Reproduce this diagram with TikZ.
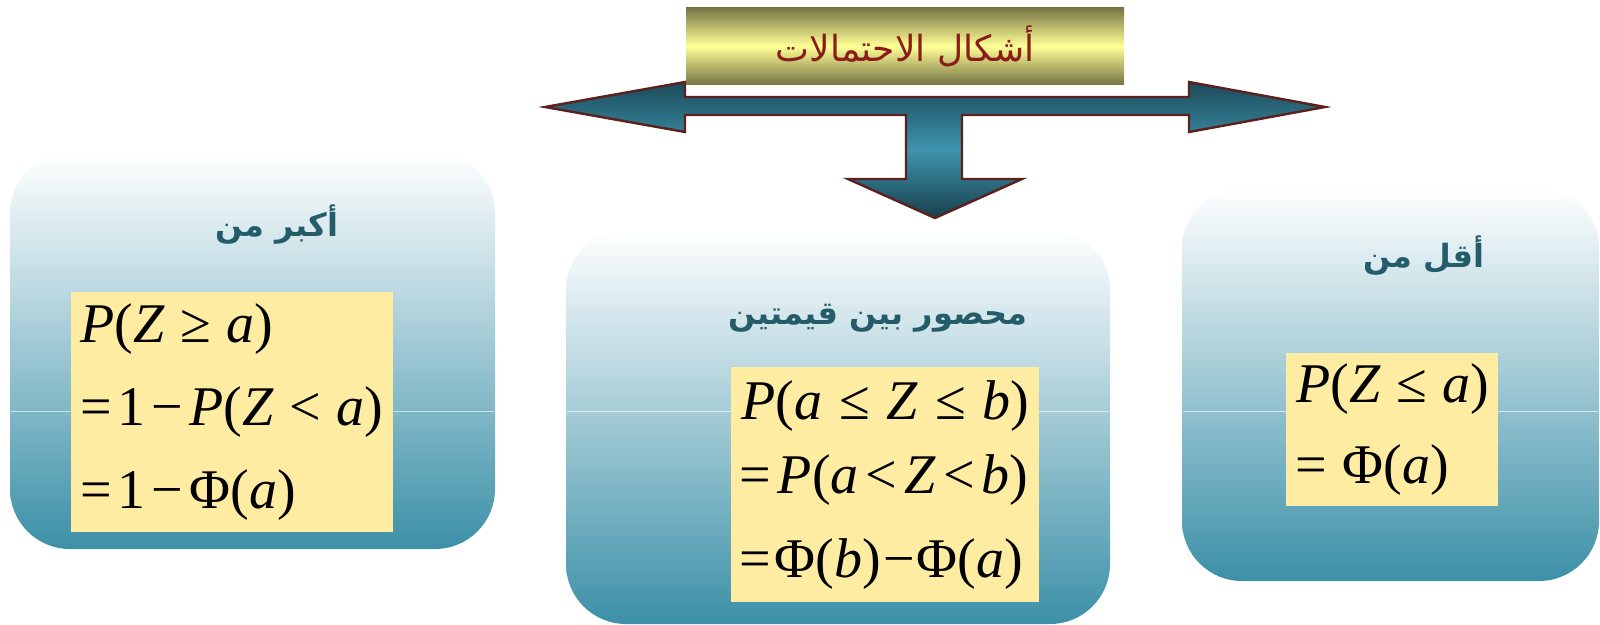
\documentclass[tikz,border=0pt]{standalone}
\usepackage{fontspec}
\setmainfont{Liberation Serif}
\newfontfamily\arabicfont[Script=Arabic]{DejaVu Sans}
\TeXXeTstate=1
\definecolor{tealdark}{RGB}{28,74,90}
\definecolor{teallight}{RGB}{62,148,172}
\definecolor{boxteal}{RGB}{60,144,168}
\definecolor{olivedark}{RGB}{118,116,68}
\definecolor{olivelight}{RGB}{255,255,150}
\definecolor{formcol}{RGB}{255,236,163}
\definecolor{labelcol}{RGB}{36,92,106}
\definecolor{titlecol}{RGB}{140,28,24}
\definecolor{edgecol}{RGB}{92,32,30}
\newcommand{\gap}{\hspace{0.28em}}
\newcommand{\tgap}{\kern3pt}
\newcommand{\mi}[1]{\textit{#1}}

\begin{document}
\begin{tikzpicture}[
  x=0.5pt, y=-0.5pt,
  panel/.style={top color=white, bottom color=boxteal, rounded corners=30pt},
  seam/.style={draw=white, opacity=0.6, line width=0.5pt},
  formbox/.style={fill=formcol, inner sep=0pt},
  formula/.style={anchor=base west, inner sep=0pt, font=\fontsize{28}{30}\selectfont},
  label/.style={text=labelcol, inner sep=0pt, font=\arabicfont\bfseries\fontsize{16}{18}\selectfont},
  titlebox/.style={top color=olivedark, bottom color=olivedark, middle color=olivelight, inner sep=0pt,
    minimum width=219pt, minimum height=38.5pt, text=titlecol, font=\arabicfont\fontsize{18}{20}\selectfont},
  arrowshape/.style={draw=edgecol, line width=1.2pt, line join=miter, top color=tealdark, bottom color=tealdark!85!black, middle color=teallight}
]
\useasboundingbox (0,0) rectangle (1600,625);

% ---------------- panels ----------------
\path[panel] (10,153) rectangle (495,549);
\path[panel] (566,230) rectangle (1110,624);
\path[panel] (1182,188) rectangle (1599,581);
\draw[seam] (11,412) -- (494,412);
\draw[seam] (567,412) -- (1109,412);
\draw[seam] (1183,412) -- (1598,412);

% ---------------- arrows ----------------
\path[arrowshape] (545,107) -- (685,82) -- (685,97) -- (1189,97) -- (1189,82) -- (1325,107)
  -- (1189,132) -- (1189,115) -- (962,115) -- (962,179) -- (1022,179) -- (935,218)
  -- (848,179) -- (906,179) -- (906,115) -- (685,115) -- (685,132) -- cycle;

% ---------------- title ----------------
\node[titlebox] (title) at (905,46) {\beginR أشكال الاحتمالات\endR};

% ---------------- left: greater than ----------------
\node[label] (greater) at (277,225) {\beginR أكبر من\endR};
\node[formbox, minimum width=161pt, minimum height=120pt] (gbox) at (232,412) {};
\node[formula] (g1) at (80,343) {\mi{P}(\mi{Z}\gap{}≥\gap\mi{a})};
\node[formula] (g2) at (80,425) {=\tgap{}1\tgap{}−\tgap\mi{P}(\mi{Z}\gap{}<\gap\mi{a})};
\node[formula] (g3) at (80,508) {=\tgap{}1\tgap{}−\tgap{}Φ(\mi{a})};

% ---------------- middle: between two values ----------------
\node[label] (between) at (878,318) {\beginR محصور بين قيمتين\endR};
\node[formbox, minimum width=154pt, minimum height=117.5pt] (bbox) at (885,484.5) {};
\node[formula] (b1) at (741,420) {\mi{P}(\mi{a}\hspace{0.3em}≤\hspace{0.3em}\mi{Z}\hspace{0.3em}≤\hspace{0.3em}\mi{b})};
\node[formula] (b2) at (739,493) {=\kern3.5pt\mi{P}(\mi{a}\kern3.5pt<\kern3.5pt\mi{Z}\kern3.5pt<\kern3.5pt\mi{b})};
\node[formula] (b3) at (739,577) {=\kern2pt{}Φ(\mi{b})\kern1pt−\kern1pt{}Φ(\mi{a})};

% ---------------- right: less than ----------------
\node[label] (less) at (1424,256) {\beginR أقل من\endR};
\node[formbox, minimum width=106pt, minimum height=76.5pt] (lbox) at (1392,429.5) {};
\node[formula] (l1) at (1296,402) {\mi{P}(\mi{Z}\gap{}≤\gap\mi{a})};
\node[formula] (l2) at (1295,483) {=\gap{}Φ(\mi{a})};

\end{tikzpicture}
\end{document}
